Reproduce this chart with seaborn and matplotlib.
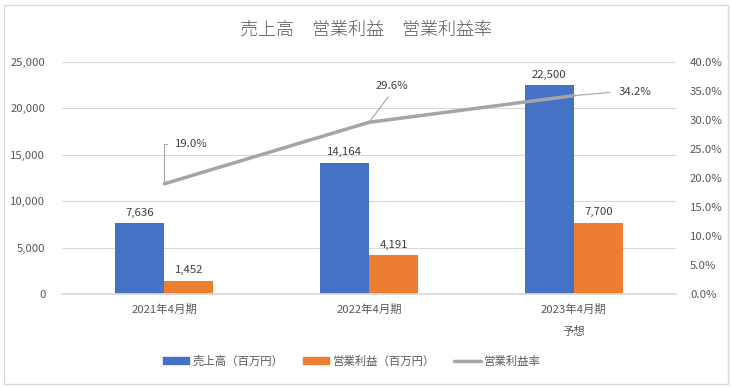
import matplotlib
matplotlib.use("Agg")
import matplotlib.pyplot as plt
import seaborn as sns
import pandas as pd
from matplotlib.patches import Rectangle, Patch
from matplotlib.lines import Line2D
from matplotlib.ticker import FuncFormatter, MultipleLocator

categories = ["2021年4月期", "2022年4月期", "2023年4月期\n予想"]
sales = [7636, 14164, 22500]
op_profit = [1452, 4191, 7700]
op_margin = [19.0, 29.6, 34.2]
series_names = ["売上高（百万円）", "営業利益（百万円）"]
line_name = "営業利益率"
title = "売上高　営業利益　営業利益率"

sns.set_theme(style="white")
plt.rcParams['font.family'] = ['Noto Sans CJK JP', 'DejaVu Sans']
TXT = "#595959"
FS = 8.2

df = pd.DataFrame({
    "cat": categories * 2,
    "series": [series_names[0]] * 3 + [series_names[1]] * 3,
    "value": sales + op_profit,
})

fig = plt.figure(figsize=(7.32, 3.88), dpi=100)
fig.patches.append(Rectangle((0.006, 0.01), 0.988, 0.978, transform=fig.transFigure,
                             fill=False, edgecolor="#d9d9d9", linewidth=1))
ax = fig.add_axes([62/732, 1-294/388, (676-62)/732, (294-62)/388])

sns.barplot(data=df, x="cat", y="value", hue="series", ax=ax,
            palette=["#4472c4", "#ed7d31"], width=0.48, saturation=1,
            legend=False, linewidth=0)
ax.set_ylim(0, 25000)
ax.yaxis.set_major_locator(MultipleLocator(5000))
ax.yaxis.set_major_formatter(FuncFormatter(lambda v, p: f"{int(v):,}"))
ax.grid(axis="y", color="#d9d9d9", linewidth=0.8)
ax.set_axisbelow(True)
for s in ["top", "left", "right"]:
    ax.spines[s].set_visible(False)
ax.spines["bottom"].set_color("#d9d9d9")
ax.set_xlabel("")
ax.set_ylabel("")
ax.tick_params(axis="both", length=0, labelsize=FS, colors=TXT)
ax.tick_params(axis="x", pad=7)
ax.tick_params(axis="y", pad=12)
for lab in ax.get_xticklabels():
    lab.set_linespacing(2.2)
ax.set_xlim(-0.5, 2.5)

for cont in ax.containers:
    ax.bar_label(cont, labels=[f"{v:,.0f}" for v in cont.datavalues],
                 padding=4, fontsize=FS, color="#404040")

ax2 = ax.twinx()
sns.lineplot(x=[0, 1, 2], y=op_margin, ax=ax2, color="#a5a5a5", linewidth=2.5)
ax2.set_ylim(0, 40)
ax2.yaxis.set_major_locator(MultipleLocator(5))
ax2.yaxis.set_major_formatter(FuncFormatter(lambda v, p: f"{v:.1f}%"))
for s in ["top", "left", "right", "bottom"]:
    ax2.spines[s].set_visible(False)
ax2.tick_params(axis="y", length=0, labelsize=FS, colors=TXT, pad=10)
ax2.set_ylabel("")
ax2.set_xlim(-0.5, 2.5)

ann_style = dict(fontsize=FS, color="#404040", va="center")
ax2.annotate(f"{op_margin[0]:.1f}%", xy=(0, op_margin[0]), xytext=(11, 40),
             textcoords="offset pixels", ha="left",
             arrowprops=dict(arrowstyle="-", color="#a5a5a5", lw=0.8,
                             connectionstyle="angle,angleA=0,angleB=90,rad=0",
                             shrinkA=4, shrinkB=0, relpos=(0, 0.5)), **ann_style)
ax2.annotate(f"{op_margin[1]:.1f}%", xy=(1, op_margin[1]), xytext=(7, 36),
             textcoords="offset pixels", ha="left",
             arrowprops=dict(arrowstyle="-", color="#a5a5a5", lw=0.8,
                             shrinkA=2, shrinkB=0, relpos=(0.5, 0)), **ann_style)
ax2.annotate(f"{op_margin[2]:.1f}%", xy=(2, op_margin[2]), xytext=(45, 4),
             textcoords="offset pixels", ha="left",
             arrowprops=dict(arrowstyle="-", color="#a5a5a5", lw=0.8,
                             shrinkA=4, shrinkB=0, relpos=(0, 0.5)), **ann_style)

fig.text(0.5, 1-30/388, title, ha="center", va="center", fontsize=13,
         color=TXT, fontweight="light")

handles = [Patch(color="#4472c4"), Patch(color="#ed7d31"),
           Line2D([0], [0], color="#a5a5a5", lw=2.5)]
fig.legend(handles, series_names + [line_name], loc="center",
           bbox_to_anchor=(352/732, 1-361/388), ncol=3, frameon=False,
           fontsize=FS, labelcolor=TXT, handlelength=2.3, handleheight=0.6,
           columnspacing=1.7, handletextpad=0.3)

fig.savefig("out.png", dpi=100)
